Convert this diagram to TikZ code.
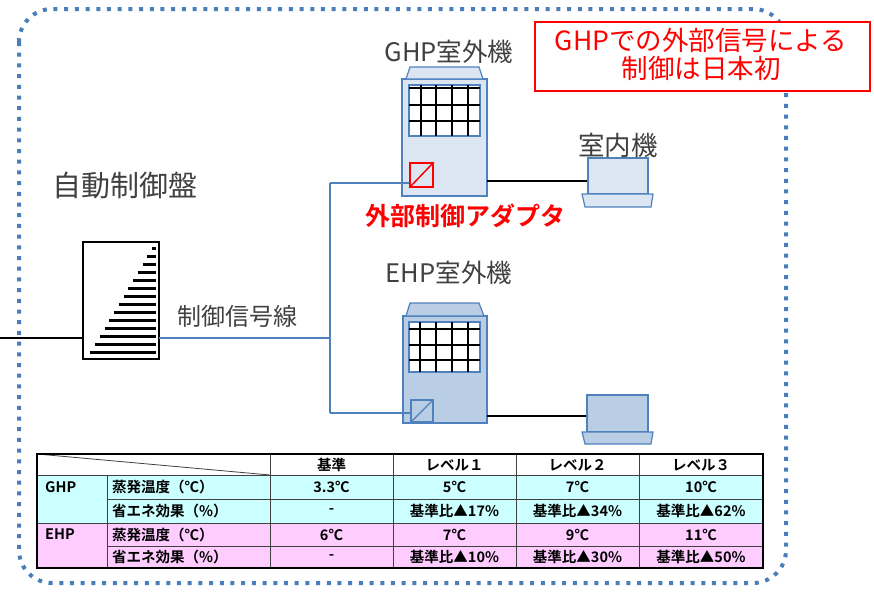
\documentclass[tikz,border=0pt]{standalone}
\usepackage{fontspec}
\setmainfont{Noto Sans CJK JP}[BoldFont={Noto Sans CJK JP Bold}]
\definecolor{edgeblue}{RGB}{79,129,189}
\definecolor{dotblue}{RGB}{74,126,187}
\definecolor{paleblue}{RGB}{220,230,242}
\definecolor{midblue}{RGB}{185,205,229}
\definecolor{labelgray}{RGB}{64,64,64}
\definecolor{rowcyan}{RGB}{204,255,255}
\definecolor{rowpink}{RGB}{255,204,255}
\begin{document}
\begin{tikzpicture}[x=1pt,y=-1pt,
  lbl/.style={text=labelgray,inner sep=0pt,font=\fontsize{25.5}{28}\selectfont},
  redlbl/.style={text=red,inner sep=0pt,font=\fontsize{25}{28}\selectfont\bfseries},
  unitline/.style={draw=edgeblue,line width=1.2pt},
  gridline/.style={draw=black,line width=2pt},
  signal/.style={draw=edgeblue,line width=1.3pt},
  wire/.style={draw=black,line width=1.4pt},
  hatch/.style={draw=black,line width=2.4pt},
  cell/.style={inner sep=0pt,font=\fontsize{14.5}{16}\selectfont\bfseries},
  tline/.style={draw=black!75,line width=0.8pt}]
\useasboundingbox (0,0) rectangle (874,592);

% dotted outer frame
\draw[dotblue,line width=4pt,dash pattern=on 4pt off 6.7pt,rounded corners=33pt]
  (19,9) rectangle (786,583);

% ---------- control panel ----------
\node[draw=black,line width=1.2pt,fill=white,minimum width=76pt,minimum height=117pt,inner sep=0pt]
  (panel) at (121,300.5) {};
\foreach \k in {0,...,13}
  \draw[hatch] ({152-4.75*\k},{248.3+8*\k}) -- (156,{248.3+8*\k});
\node[lbl,font=\fontsize{29}{32}\selectfont] (paneltitle) at (125,186) {自動制御盤};

% ---------- GHP outdoor unit ----------
\node[unitline,fill=paleblue,minimum width=85pt,minimum height=117pt,inner sep=0pt] (ghp) at (444.5,137.5) {};
\filldraw[unitline,fill=paleblue] (406,79) -- (410,67) -- (479,67) -- (483,79) -- cycle;
\node[unitline,fill=white,minimum width=71pt,minimum height=51pt,inner sep=0pt] (ghpgrid) at (444.5,110.5) {};
\foreach \gx in {421,436,452,468} \draw[gridline] (\gx,85) -- (\gx,136);
\foreach \gy in {88,105,121} \draw[gridline] (409,\gy) -- (480,\gy);
\node[draw=red,line width=1.5pt,minimum width=23pt,minimum height=24pt,inner sep=0pt] (ghpad) at (421.5,175) {};
\draw[red,line width=1.5pt] (ghpad.south west) -- (ghpad.north east);
\node[lbl] (ghptitle) at (449,52) {GHP室外機};
\node[redlbl] (adlabel) at (465,216) {外部制御アダプタ};

% ---------- GHP indoor unit ----------
\node[unitline,fill=paleblue,minimum width=60pt,minimum height=36pt,inner sep=0pt] (ghpin) at (618,176) {};
\filldraw[unitline,fill=paleblue] (582,194) -- (653,194) -- (651,207) -- (585,207) -- cycle;
\node[lbl,font=\fontsize{26.5}{30}\selectfont] (intitle) at (618,145) {室内機};

% ---------- EHP outdoor unit ----------
\node[unitline,fill=midblue,minimum width=84pt,minimum height=107pt,inner sep=0pt] (ehp) at (445,369.5) {};
\filldraw[unitline,fill=midblue] (406,316) -- (410,303) -- (479,303) -- (484,316) -- cycle;
\node[unitline,fill=white,minimum width=71pt,minimum height=50pt,inner sep=0pt] (ehpgrid) at (444.5,347) {};
\foreach \gx in {420,436,452,468} \draw[gridline] (\gx,322) -- (\gx,372);
\foreach \gy in {329,345,360} \draw[gridline] (409,\gy) -- (480,\gy);
\node[unitline,minimum width=22pt,minimum height=22pt,inner sep=0pt] (ehpad) at (422,411) {};
\draw[unitline] (ehpad.south west) -- (ehpad.north east);
\node[lbl] (ehptitle) at (449,273) {EHP室外機};

% ---------- EHP indoor unit ----------
\node[unitline,fill=midblue,minimum width=61pt,minimum height=37pt,inner sep=0pt] (ehpin) at (617.5,413.5) {};
\filldraw[unitline,fill=midblue] (582,432) -- (653,432) -- (651,444) -- (585,444) -- cycle;

% ---------- wiring ----------
\coordinate (feed) at (0,338);
\coordinate (panelL) at (83,338);
\coordinate (panelR) at (159,338);
\coordinate (busmid) at (330,338);
\coordinate (bustop) at (330,183);
\coordinate (busbot) at (330,413);
\draw[wire] (feed) -- (panelL);
\draw[signal] (panelR) -- (busmid);
\draw[signal] (bustop) -- (busbot);
\draw[signal] (bustop) -- (bustop -| ghpad.west);
\draw[signal] (busbot) -- (busbot -| ehpad.west);
\node[lbl,font=\fontsize{24}{28}\selectfont] (sigtitle) at (237,316) {制御信号線};
\coordinate (ghpout) at (487,181);
\coordinate (ehpout) at (487,416);
\draw[wire] (ghpout) -- (ghpout -| ghpin.west);
\draw[wire] (ehpout) -- (ehpout -| ehpin.west);

% ---------- note box ----------
\node[draw=red,line width=1.4pt,fill=white,minimum width=335pt,minimum height=69pt,inner sep=0pt] (note) at (702.5,56.5) {};
\node[text=red,font=\fontsize{26.5}{28}\selectfont,align=center,inner sep=0pt] (notetext) at (701,54)
  {GHPでの外部信号による\\制御は日本初};

% ---------- table ----------
\fill[rowcyan] (37,475) rectangle (763,523);
\fill[rowpink] (37,523) rectangle (763,568);
\fill[white] (37,454) rectangle (763,475);
\draw[tline] (37,475) -- (763,475);
\draw[tline] (107,499) -- (763,499);
\draw[tline] (37,523) -- (763,523);
\draw[tline] (107,546) -- (763,546);
\draw[tline] (107,475) -- (107,568);
\foreach \cx in {270,393,516,639} \draw[tline] (\cx,454) -- (\cx,568);
\draw[tline] (37,454) -- (270,475);
\draw[black,line width=1.6pt] (37,454) rectangle (763,568);

\node[cell] (h0) at (331.5,465) {基準};
\node[cell] (h1) at (454.5,465) {レベル１};
\node[cell] (h2) at (577.5,465) {レベル２};
\node[cell] (h3) at (701,465) {レベル３};

\node[cell,anchor=west] (g0) at (45,487) {GHP};
\node[cell,anchor=west] (g1) at (112,487) {蒸発温度（℃）};
\node[cell,anchor=west] (g2) at (112,511) {省エネ効果（\%）};
\node[cell] (g11) at (331.5,487) {3.3℃};
\node[cell] (g12) at (454.5,487) {5℃};
\node[cell] (g13) at (577.5,487) {7℃};
\node[cell] (g14) at (701,487) {10℃};
\node[cell] (g21) at (331.5,511) {-};
\node[cell] (g22) at (454.5,511) {基準比▲17\%};
\node[cell] (g23) at (577.5,511) {基準比▲34\%};
\node[cell] (g24) at (701,511) {基準比▲62\%};

\node[cell,anchor=west] (e0) at (45,534.5) {EHP};
\node[cell,anchor=west] (e1) at (112,534.5) {蒸発温度（℃）};
\node[cell,anchor=west] (e2) at (112,557) {省エネ効果（\%）};
\node[cell] (e11) at (331.5,534.5) {6℃};
\node[cell] (e12) at (454.5,534.5) {7℃};
\node[cell] (e13) at (577.5,534.5) {9℃};
\node[cell] (e14) at (701,534.5) {11℃};
\node[cell] (e21) at (331.5,557) {-};
\node[cell] (e22) at (454.5,557) {基準比▲10\%};
\node[cell] (e23) at (577.5,557) {基準比▲30\%};
\node[cell] (e24) at (701,557) {基準比▲50\%};
\end{tikzpicture}
\end{document}
